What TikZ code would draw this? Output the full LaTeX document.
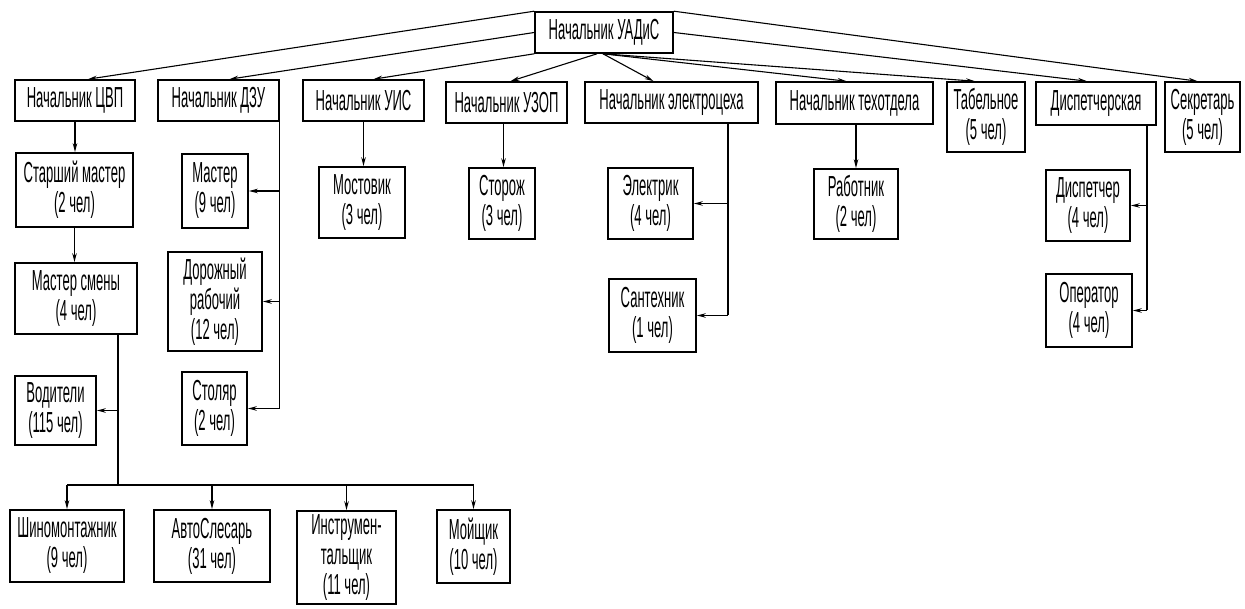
\documentclass[tikz,border=0pt]{standalone}
\usepackage{fontspec}
\setmainfont{Liberation Sans}[FakeStretch=0.45]
\usetikzlibrary{arrows.meta}
\begin{document}
\begin{tikzpicture}[x=1pt,y=-1pt,
  box/.style={draw, line width=1.6pt, align=center, inner sep=0pt, font=\fontsize{29}{30}\selectfont},
  arr/.style={line width=1.1pt, -{Stealth[length=9pt,width=4.5pt]}},
  ln/.style={line width=1.1pt}]
\useasboundingbox[fill=white] (0,0) rectangle (1245,609);
% top
\node[box, minimum width=138pt, minimum height=41pt] (boss) at (604,32.5) {Начальник УАДиС};
% row 1
\node[box, minimum width=120pt, minimum height=41pt] (cvp) at (75,100.5) {Начальник ЦВП};
\node[box, minimum width=121pt, minimum height=41pt] (dzu) at (218.5,100.5) {Начальник ДЗУ};
\node[box, minimum width=121pt, minimum height=41pt] (uis) at (363.5,100.5) {Начальник УИС};
\node[box, minimum width=121pt, minimum height=41pt] (uzop) at (506.5,102.5) {Начальник УЗОП};
\node[box, minimum width=173pt, minimum height=41pt] (elec) at (671.5,102.5) {Начальник электроцеха};
\node[box, minimum width=157pt, minimum height=42pt] (tech) at (854.5,103) {Начальник техотдела};
\node[box, minimum width=78pt, minimum height=70pt] (tab) at (986,117) {Табельное\\(5 чел)};
\node[box, minimum width=120pt, minimum height=43pt] (disp) at (1096,103.5) {Диспетчерская};
\node[box, minimum width=75pt, minimum height=70pt] (sec) at (1202.5,117) {Секретарь\\(5 чел)};
% CVP branch
\node[box, minimum width=117pt, minimum height=74pt] (smaster) at (74.5,190) {Старший мастер\\(2 чел)};
\node[box, minimum width=122pt, minimum height=71pt] (mss) at (76,298.5) {Мастер смены\\(4 чел)};
\node[box, minimum width=81pt, minimum height=69pt] (vod) at (55.5,410.5) {Водители\\(115 чел)};
\node[box, minimum width=114pt, minimum height=72pt] (shin) at (67,546) {Шиномонтажник\\(9 чел)};
\node[box, minimum width=116pt, minimum height=72pt] (avto) at (212,546) {АвтоСлесарь\\(31 чел)};
\node[box, minimum width=99pt, minimum height=93pt] (instr) at (346.5,557.5) {Инструмен-\\тальщик\\(11 чел)};
\node[box, minimum width=73pt, minimum height=73pt] (moy) at (473.5,546.5) {Мойщик\\(10 чел)};
% DZU branch
\node[box, minimum width=66pt, minimum height=74pt] (master) at (215,191) {Мастер\\(9 чел)};
\node[box, minimum width=94pt, minimum height=99pt] (dor) at (215,301.5) {Дорожный\\рабочий\\(12 чел)};
\node[box, minimum width=65pt, minimum height=73pt] (stol) at (214.5,408.5) {Столяр\\(2 чел)};
% others
\node[box, minimum width=86pt, minimum height=71pt] (most) at (362,202.5) {Мостовик\\(3 чел)};
\node[box, minimum width=66pt, minimum height=71pt] (stor) at (502,203.5) {Сторож\\(3 чел)};
\node[box, minimum width=85pt, minimum height=71pt] (elk) at (650.5,203.5) {Электрик\\(4 чел)};
\node[box, minimum width=87pt, minimum height=73pt] (sant) at (652.5,315.5) {Сантехник\\(1 чел)};
\node[box, minimum width=84pt, minimum height=70pt] (rab) at (856,204) {Работник\\(2 чел)};
\node[box, minimum width=84pt, minimum height=71pt] (dsp) at (1088,205.5) {Диспетчер\\(4 чел)};
\node[box, minimum width=86pt, minimum height=73pt] (oper) at (1089,310.5) {Оператор\\(4 чел)};
% connectors from boss
\draw[arr] (boss.north west) -- ([xshift=13pt]cvp.north);
\draw[arr] (boss.west) -- ([xshift=11pt]dzu.north);
\draw[arr] (boss.south west) -- ([xshift=10pt]uis.north);
\draw[arr] ([xshift=-7pt]boss.south) -- ([xshift=4pt]uzop.north);
\draw[arr] ([xshift=-1pt]boss.south) -- ([xshift=-18pt]elec.north);
\draw[arr] ([xshift=-1pt]boss.south) -- ([xshift=-8pt]tech.north);
\draw[arr] ([xshift=-1pt]boss.south) -- ([xshift=-11pt]tab.north);
\draw[arr] (boss.east) -- ([xshift=-9pt]disp.north);
\draw[arr] (boss.north east) -- ([xshift=-5pt]sec.north);
% CVP
\draw[arr] (cvp.south) -- (cvp.south |- smaster.north);
\draw[arr] (smaster.south) -- (smaster.south |- mss.north);
\coordinate (mssdown) at ([xshift=42pt]mss.south);
\coordinate (bus) at (118,485);
\draw[ln] (mssdown) -- (mssdown |- bus);
\draw[arr] (mssdown |- vod.east) -- (vod.east);
\draw[ln] (shin.north |- bus) -- (moy.north |- bus);
\draw[arr] (shin.north |- bus) -- (shin.north);
\draw[arr] (avto.north |- bus) -- (avto.north);
\draw[arr] (instr.north |- bus) -- (instr.north);
\draw[arr] (moy.north |- bus) -- (moy.north);
% DZU
\draw[ln] (dzu.south east) -- (dzu.south east |- stol.east);
\draw[arr] (dzu.south east |- master.east) -- (master.east);
\draw[arr] (dzu.south east |- dor.east) -- (dor.east);
\draw[arr] (dzu.south east |- stol.east) -- (stol.east);
% UIS, UZOP, tech
\draw[arr] (uis.south) -- (uis.south |- most.north);
\draw[arr] ([xshift=-3pt]uzop.south) -- ([xshift=-3pt]uzop.south |- stor.north);
\draw[arr] ([xshift=1.5pt]tech.south) -- ([xshift=1.5pt]tech.south |- rab.north);
% elec
\coordinate (elecdown) at ([xshift=56.5pt]elec.south);
\draw[ln] (elecdown) -- (elecdown |- sant.east);
\draw[arr] (elecdown |- elk.east) -- (elk.east);
\draw[arr] (elecdown |- sant.east) -- (sant.east);
% disp
\coordinate (dispdown) at ([xshift=51pt]disp.south);
\draw[ln] (dispdown) -- (dispdown |- oper.east);
\draw[arr] (dispdown |- dsp.east) -- (dsp.east);
\draw[arr] (dispdown |- oper.east) -- (oper.east);
\end{tikzpicture}
\end{document}
